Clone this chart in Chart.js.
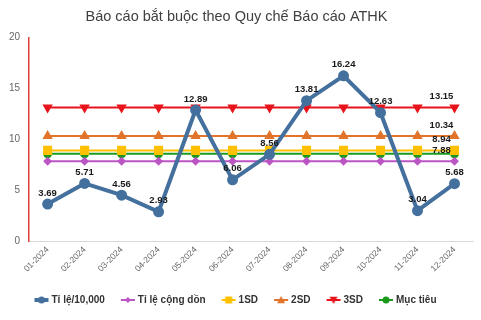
<!DOCTYPE html>
<html>
<head>
<meta charset="utf-8">
<script src="https://cdn.jsdelivr.net/npm/chart.js@4/dist/chart.umd.min.js"></script>
<style>
  html, body { margin: 0; padding: 0; background: #fff; }
  #wrap { width: 481px; height: 320px; }
</style>
</head>
<body>
<div id="wrap"><canvas id="bieudo"></canvas></div>
<script>
var thang = ['01-2024','02-2024','03-2024','04-2024','05-2024','06-2024','07-2024','08-2024','09-2024','10-2024','11-2024','12-2024'];
var tiLe = [3.69, 5.71, 4.56, 2.93, 12.89, 6.06, 8.56, 13.81, 16.24, 12.63, 3.04, 5.68];
var congDon = [7.88, 7.88, 7.88, 7.88, 7.88, 7.88, 7.88, 7.88, 7.88, 7.88, 7.88, 7.88];
var sd1 = [8.94, 8.94, 8.94, 8.94, 8.94, 8.94, 8.94, 8.94, 8.94, 8.94, 8.94, 8.94];
var sd2 = [10.34, 10.34, 10.34, 10.34, 10.34, 10.34, 10.34, 10.34, 10.34, 10.34, 10.34, 10.34];
var sd3 = [13.15, 13.15, 13.15, 13.15, 13.15, 13.15, 13.15, 13.15, 13.15, 13.15, 13.15, 13.15];
var mucTieu = [8.6, 8.6, 8.6, 8.6, 8.6, 8.6, 8.6, 8.6, 8.6, 8.6, 8.6, 8.6];
var yTicks = [0, 5, 10, 15, 20];

var font = '"Liberation Sans", Arial, sans-serif';

// ky hieu chu giai: doan thang ngan co diem o giua
function kyHieu(mau, kieu, doDay, r) {
    var c = document.createElement('canvas');
    c.width = 16; c.height = 12;
    var g = c.getContext('2d');
    g.strokeStyle = mau; g.fillStyle = mau;
    g.lineWidth = doDay;
    g.beginPath(); g.moveTo(1, 6); g.lineTo(15, 6); g.stroke();
    g.beginPath();
    if (kieu === 'circle') { g.arc(8, 6, r, 0, Math.PI * 2); }
    else if (kieu === 'rect') { g.rect(8 - r, 6 - r, 2 * r, 2 * r); }
    else if (kieu === 'rectRot') { g.moveTo(8, 6 - r); g.lineTo(8 + r, 6); g.lineTo(8, 6 + r); g.lineTo(8 - r, 6); }
    else if (kieu === 'up') { g.moveTo(8, 6 - r); g.lineTo(8 + r, 6 + r * 0.8); g.lineTo(8 - r, 6 + r * 0.8); }
    else if (kieu === 'down') { g.moveTo(8, 6 + r); g.lineTo(8 + r, 6 - r * 0.8); g.lineTo(8 - r, 6 - r * 0.8); }
    g.closePath(); g.fill();
    return c;
}
var kyHieuList = [
    kyHieu('#44709e', 'circle', 4, 3.5),
    kyHieu('#bb55c4', 'rectRot', 2, 3),
    kyHieu('#ffc000', 'rect', 2, 3.5),
    kyHieu('#e2732a', 'up', 2, 4),
    kyHieu('#e8141b', 'down', 2, 4),
    kyHieu('#1b9a1b', 'circle', 2, 3.5)
];

// nhan so lieu: ca diem cua duong chinh, diem cuoi cua cac duong nguong
var nhanSo = {
    id: 'nhanSo',
    afterDatasetsDraw: function(chart) {
        var ctx = chart.ctx;
        ctx.save();
        ctx.font = 'bold 9.5px ' + font;
        ctx.fillStyle = '#1a1a1a';
        ctx.textAlign = 'center';
        ctx.textBaseline = 'middle';
        chart.data.datasets.forEach(function(ds, i) {
            var meta = chart.getDatasetMeta(i);
            if (i === 0) {
                meta.data.forEach(function(p, j) {
                    ctx.fillText(ds.data[j].toFixed(2), p.x, p.y - 11);
                });
            } else if (i <= 4) {
                var last = meta.data.length - 1;
                var p = meta.data[last];
                ctx.fillText(ds.data[last].toFixed(2), p.x - 13, p.y - 11);
            }
        });
        ctx.restore();
    }
};

var ctx = document.getElementById('bieudo').getContext('2d');
var chart = new Chart(ctx, {
    type: 'line',
    data: {
        labels: thang,
        datasets: [
            { label: 'Tỉ lệ/10,000', data: tiLe, borderColor: '#44709e', backgroundColor: '#44709e',
              borderWidth: 4, pointRadius: 3.5, pointStyle: 'circle', tension: 0 },
            { label: 'Tỉ lệ cộng dồn', data: congDon, borderColor: '#bb55c4', backgroundColor: '#bb55c4',
              borderWidth: 2, pointRadius: 3, pointStyle: 'rectRot' },
            { label: '1SD', data: sd1, borderColor: '#ffc000', backgroundColor: '#ffc000',
              borderWidth: 2, pointRadius: 5, pointStyle: 'rect' },
            { label: '2SD', data: sd2, borderColor: '#e2732a', backgroundColor: '#e2732a',
              borderWidth: 2, pointRadius: 4, pointStyle: 'triangle' },
            { label: '3SD', data: sd3, borderColor: '#e8141b', backgroundColor: '#e8141b',
              borderWidth: 2, pointRadius: 4, pointStyle: 'triangle', pointRotation: 180 },
            { label: 'Mục tiêu', data: mucTieu, borderColor: '#1b9a1b', backgroundColor: '#1b9a1b',
              borderWidth: 2, pointRadius: 3.5, pointStyle: 'circle' }
        ]
    },
    options: {
        responsive: true,
        maintainAspectRatio: false,
        animation: false,
        layout: { padding: { left: 0, right: 8, top: 4, bottom: 5 } },
        plugins: {
            title: {
                display: true,
                text: 'Báo cáo bắt buộc theo Quy chế Báo cáo ATHK',
                color: '#404040',
                font: { family: font, size: 14.5, weight: 'normal' },
                padding: { top: 4, bottom: 12 }
            },
            legend: {
                position: 'bottom',
                labels: {
                    usePointStyle: true,
                    color: '#333',
                    font: { family: font, size: 10, weight: 'bold' },
                    padding: 18,
                    generateLabels: function(chart) {
                        var items = Chart.defaults.plugins.legend.labels.generateLabels(chart);
                        items.forEach(function(it, i) { it.pointStyle = kyHieuList[i]; it.rotation = 0; });
                        return items;
                    }
                }
            },
            tooltip: { enabled: false }
        },
        scales: {
            x: {
                offset: true,
                grid: { display: false, drawTicks: false },
                border: { color: '#d9d9d9', width: 1 },
                ticks: {
                    color: '#666', maxRotation: 45, minRotation: 45, padding: 3,
                    font: { family: font, size: 8.5 }
                }
            },
            y: {
                min: 0, max: 20,
                afterBuildTicks: function(axis) { axis.ticks = yTicks.map(function(v) { return { value: v }; }); },
                grid: { display: false, drawTicks: false },
                border: { color: '#e23c3c', width: 1.5 },
                ticks: {
                    color: '#666', padding: 9,
                    font: { family: font, size: 10 }
                }
            }
        }
    },
    plugins: [nhanSo]
});
</script>
</body>
</html>
